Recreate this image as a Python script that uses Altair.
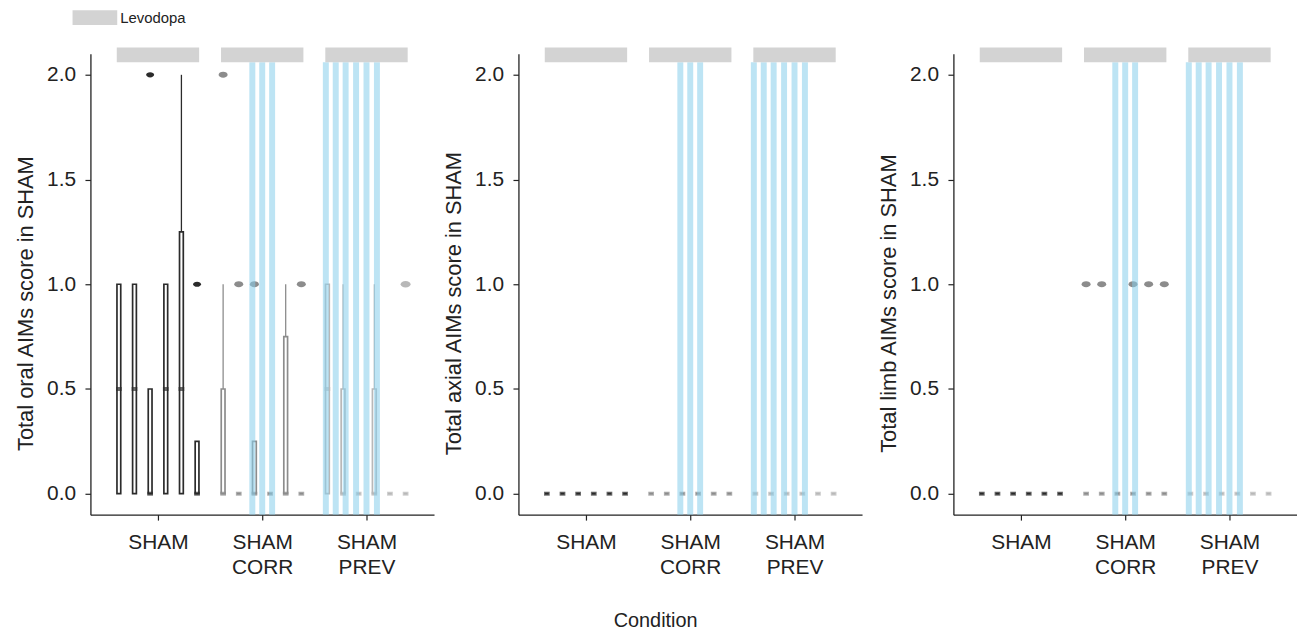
import altair as alt
import pandas as pd

# ---------------- data ----------------
groups = ["SHAM", "SHAM CORR", "SHAM PREV"]
group_label_lines = [["SHAM"], ["SHAM", "CORR"], ["SHAM", "PREV"]]
sessions = [1, 2, 3, 4, 5, 6]
group_colors = ["#2b2b2b", "#8c8c8c", "#b8b8b8"]
outlier_sizes = [64, 100, 30]

y_titles = ["Total oral AIMs score in SHAM",
            "Total axial AIMs score in SHAM",
            "Total limb AIMs score in SHAM"]

# 18 boxes per panel: SHAM s1..s6, SHAM CORR s1..s6, SHAM PREV s1..s6
oral_lo  = [0, 0, 0, 0, 0, 0,    0, 0, 0, 0, 0, 0,    0, 0, 0, 0, 0, 0]
oral_q1  = [0, 0, 0, 0, 0, 0,    0, 0, 0, 0, 0, 0,    0, 0, 0, 0, 0, 0]
oral_med = [0.5, 0.5, 0, 0.5, 0.5, 0,   0, 0, 0, 0, 0, 0,   0.5, 0, 0, 0, 0, 0]
oral_q3  = [1, 1, 0.5, 1, 1.25, 0.25,   0.5, 0, 0.25, 0, 0.75, 0,   1, 0.5, 0, 0.5, 0, 0]
oral_hi  = [1, 1, 0.5, 1, 2, 0.25,      1, 0, 0.25, 0, 1, 0,        1, 1, 0, 1, 0, 0]
oral_out_box = [2, 5, 6, 7, 8, 11, 17]
oral_out_val = [2, 1, 2, 1, 1, 1, 1]

axial_lo  = [0, 0, 0, 0, 0, 0,   0, 0, 0, 0, 0, 0,   0, 0, 0, 0, 0, 0]
axial_q1  = [0, 0, 0, 0, 0, 0,   0, 0, 0, 0, 0, 0,   0, 0, 0, 0, 0, 0]
axial_med = [0, 0, 0, 0, 0, 0,   0, 0, 0, 0, 0, 0,   0, 0, 0, 0, 0, 0]
axial_q3  = [0, 0, 0, 0, 0, 0,   0, 0, 0, 0, 0, 0,   0, 0, 0, 0, 0, 0]
axial_hi  = [0, 0, 0, 0, 0, 0,   0, 0, 0, 0, 0, 0,   0, 0, 0, 0, 0, 0]
axial_out_box = []
axial_out_val = []

limb_lo  = [0, 0, 0, 0, 0, 0,   0, 0, 0, 0, 0, 0,   0, 0, 0, 0, 0, 0]
limb_q1  = [0, 0, 0, 0, 0, 0,   0, 0, 0, 0, 0, 0,   0, 0, 0, 0, 0, 0]
limb_med = [0, 0, 0, 0, 0, 0,   0, 0, 0, 0, 0, 0,   0, 0, 0, 0, 0, 0]
limb_q3  = [0, 0, 0, 0, 0, 0,   0, 0, 0, 0, 0, 0,   0, 0, 0, 0, 0, 0]
limb_hi  = [0, 0, 0, 0, 0, 0,   0, 0, 0, 0, 0, 0,   0, 0, 0, 0, 0, 0]
limb_out_box = [6, 7, 9, 10, 11]
limb_out_val = [1, 1, 1, 1, 1]

# light-blue stripes (x positions on the condition axis)
stripe_x = [0.905, 1.0, 1.095, 1.61, 1.705, 1.80, 1.90, 2.0, 2.10]
stripe_y = [-0.1, 2.06]

# Levodopa bars above each condition
levodopa_group = [0, 1, 2]
levodopa_half = 0.395
levodopa_y = [2.06, 2.13]

dodge = 0.15
FONT = "Liberation Sans"
DARK = "#222222"

panels = [
    (oral_lo, oral_q1, oral_med, oral_q3, oral_hi, oral_out_box, oral_out_val),
    (axial_lo, axial_q1, axial_med, axial_q3, axial_hi, axial_out_box, axial_out_val),
    (limb_lo, limb_q1, limb_med, limb_q3, limb_hi, limb_out_box, limb_out_val),
]

label_expr = " : ".join(
    f"datum.value == {i} ? {lines!r}" for i, lines in enumerate(group_label_lines[:-1])
) + f" : {group_label_lines[-1]!r}"

xscale = alt.Scale(domain=[-0.6, 2.6], nice=False, zero=False)
yscale = alt.Scale(domain=[-0.1, 2.1], nice=False, zero=False)
grp_color = alt.Scale(domain=groups, range=group_colors)


def make_panel(idx):
    lo, q1, med, q3, hi, ob, ov = panels[idx]
    rows = []
    for b in range(18):
        g = b // 6
        k = b % 6
        rows.append(dict(group=groups[g], gi=g, session=sessions[k],
                         x=g + (k - 2.5) * dodge,
                         lo=lo[b], q1=q1[b], med=med[b], q3=q3[b], hi=hi[b]))
    boxes = pd.DataFrame(rows)
    outs = pd.DataFrame(dict(
        group=[groups[b // 6] for b in ob],
        x=[(b // 6) + (b % 6 - 2.5) * dodge for b in ob],
        val=ov,
    ))
    stripes = pd.DataFrame(dict(x=stripe_x, y=[stripe_y[0]] * len(stripe_x),
                                y2=[stripe_y[1]] * len(stripe_x)))
    levo = pd.DataFrame(dict(x=[g - levodopa_half for g in levodopa_group],
                             x2=[g + levodopa_half for g in levodopa_group],
                             y=[levodopa_y[0]] * 3, y2=[levodopa_y[1]] * 3,
                             label=["Levodopa"] * 3))

    xenc = alt.X("x:Q", scale=xscale, title=None,
                 axis=alt.Axis(values=[0, 1, 2], labelExpr=label_expr, grid=False,
                               labelFontSize=21, labelLineHeight=25, labelPadding=11.5,
                               labelColor=DARK, tickColor=DARK, domainColor=DARK,
                               tickSize=5.5, domainWidth=1.3, tickWidth=1.2,
                               labelFont=FONT))
    yaxis = alt.Axis(values=[0, 0.5, 1, 1.5, 2], format=".1f", grid=False,
                     title=y_titles[idx], titleFontSize=22, titleFontWeight="normal",
                     titleColor=DARK, titleFont=FONT, titlePadding=9.5, titleY=251,
                     labelFontSize=21, labelColor=DARK, labelFont=FONT, labelPadding=9.5,
                     tickColor=DARK, domainColor=DARK, tickSize=5.5, domainWidth=1.3,
                     tickWidth=1.2)

    base = alt.Chart(boxes)
    upper = base.mark_rule(strokeWidth=1.3).encode(
        x=xenc, y=alt.Y("q3:Q", scale=yscale, axis=yaxis), y2="hi:Q",
        color=alt.Color("group:N", scale=grp_color, legend=None))
    lower = base.mark_rule(strokeWidth=1.3).encode(
        x="x:Q", y="lo:Q", y2="q1:Q",
        color=alt.Color("group:N", scale=grp_color, legend=None))
    box = base.mark_bar(size=3.8, fill="white", strokeWidth=1.7).encode(
        x="x:Q", y="q1:Q", y2="q3:Q",
        stroke=alt.Stroke("group:N", scale=grp_color, legend=None))
    median = base.mark_tick(orient="horizontal", size=5.8, thickness=4).encode(
        x="x:Q", y="med:Q",
        color=alt.Color("group:N", scale=grp_color, legend=None))
    layers = [upper, lower, box, median]
    if len(outs):
        pts = alt.Chart(outs).mark_point(
            filled=True, opacity=1,
            shape="M-1,0A1,0.66,0,1,0,1,0A1,0.66,0,1,0,-1,0Z").encode(
            x="x:Q", y="val:Q",
            color=alt.Color("group:N", scale=grp_color, legend=None),
            size=alt.Size("group:N", scale=alt.Scale(domain=groups, range=outlier_sizes),
                          legend=None))
        layers.append(pts)
    stripe = alt.Chart(stripes).mark_rule(strokeWidth=6, color="#87CEEB",
                                          opacity=0.55).encode(
        x="x:Q", y="y:Q", y2="y2:Q")
    levob = alt.Chart(levo).mark_rect(clip=False).encode(
        x="x:Q", x2="x2:Q", y="y:Q", y2="y2:Q",
        fill=alt.Fill("label:N", scale=alt.Scale(domain=["Levodopa"], range=["#D3D3D3"]),
                      title=None,
                      legend=alt.Legend(orient="none", legendX=-3, legendY=-44,
                                        symbolType="M-3,-1H3V1H-3Z",
                                        symbolSize=225, symbolStrokeWidth=0,
                                        labelFontSize=15, labelFont=FONT,
                                        labelColor=DARK, labelOffset=18)))
    layers += [stripe, levob]
    return alt.layer(*layers).properties(width=346, height=464)


p1, p2, p3 = make_panel(0), make_panel(1), make_panel(2)
left = alt.hconcat(p1, p2, spacing=8)
chart = alt.hconcat(left, p3, spacing=15).properties(
    title=alt.TitleParams("Condition", orient="bottom", anchor="middle", fontSize=20,
                          fontWeight="normal", color=DARK, font=FONT, offset=34),
    padding={"left": 6, "top": 0, "right": 0, "bottom": 0},
).configure_view(stroke=None)

chart.save("out.html", embed_options={"renderer": "svg", "actions": False})
